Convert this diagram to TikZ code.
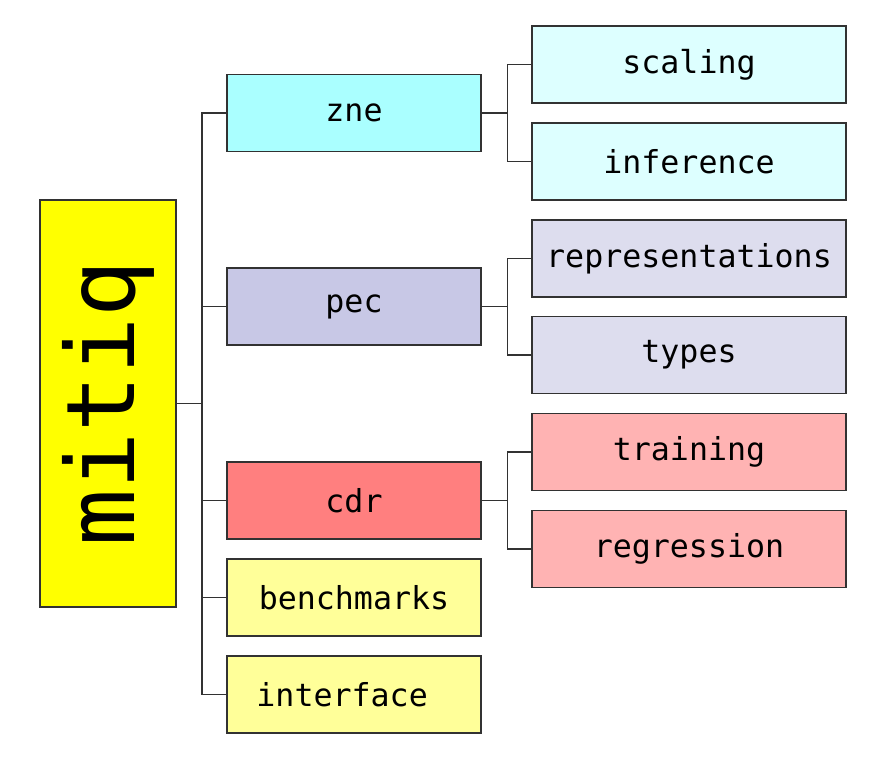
\documentclass[tikz,border=0pt]{standalone}
\usepackage{fontspec}
\usepackage{xcolor}
\usepackage{tikz}
\usetikzlibrary{positioning}
\setmonofont{DejaVu Sans Mono}
\definecolor{rootYellow}{RGB}{255,255,0}
\definecolor{zneCyan}{RGB}{170,255,255}
\definecolor{zneLight}{RGB}{221,255,255}
\definecolor{pecBlue}{RGB}{200,200,230}
\definecolor{pecLight}{RGB}{221,221,238}
\definecolor{cdrRed}{RGB}{255,127,127}
\definecolor{cdrLight}{RGB}{255,179,179}
\definecolor{miscYellow}{RGB}{255,255,153}
\definecolor{edgeGray}{RGB}{50,50,50}

\begin{document}
\begin{tikzpicture}[x=0.03cm, y=-0.03cm,
    box/.style={rectangle, draw=edgeGray, line width=0.9pt, font=\ttfamily\fontsize{27}{30}\selectfont, inner sep=0pt},
    mid/.style={box, minimum width=254*0.03cm, minimum height=77*0.03cm},
    leaf/.style={box, minimum width=314*0.03cm, minimum height=77*0.03cm},
    link/.style={draw=edgeGray, line width=1pt, line cap=rect}
]
\useasboundingbox (0,0) rectangle (869,764);

\node[box, fill=rootYellow, minimum width=136*0.03cm, minimum height=407*0.03cm,
      font=\ttfamily\fontsize{81}{90}\selectfont] (mitiq) at (108,403.5) {\rotatebox{90}{mitiq}};

\node[mid, fill=zneCyan] (zne) at (354,113) {zne};
\node[mid, fill=pecBlue] (pec) at (354,306.5) {pec};
\node[mid, fill=cdrRed] (cdr) at (354,500.5) {cdr};
\node[mid, fill=miscYellow] (benchmarks) at (354,597.5) {benchmarks};
\node[mid, fill=miscYellow] (interface) at (354,694.5) {interface\hspace*{0.75em}};

\node[leaf, fill=zneLight] (scaling) at (689,64.5) {scaling};
\node[leaf, fill=zneLight] (inference) at (689,161.5) {inference};
\node[leaf, fill=pecLight] (representations) at (689,258.5) {representations};
\node[leaf, fill=pecLight] (types) at (689,355) {types};
\node[leaf, fill=cdrLight] (training) at (689,452) {training};
\node[leaf, fill=cdrLight] (regression) at (689,549) {regression};

% trunk from the root
\coordinate (trunk) at (202,0);
\draw[link] (mitiq.east) -- (mitiq.east -| trunk);
\draw[link] (zne.west -| trunk) -- (interface.west -| trunk);
\foreach \child in {zne, pec, cdr, benchmarks, interface}
    \draw[link] (\child.west -| trunk) -- (\child.west);

% sub branches
\foreach \parent/\first/\second in {zne/scaling/inference, pec/representations/types, cdr/training/regression} {
    \coordinate (fork) at ([xshift=26*0.03cm]\parent.east);
    \draw[link] (\parent.east) -- (fork);
    \draw[link] (\first.west) -| (fork) |- (\second.west);
}
\end{tikzpicture}
\end{document}
